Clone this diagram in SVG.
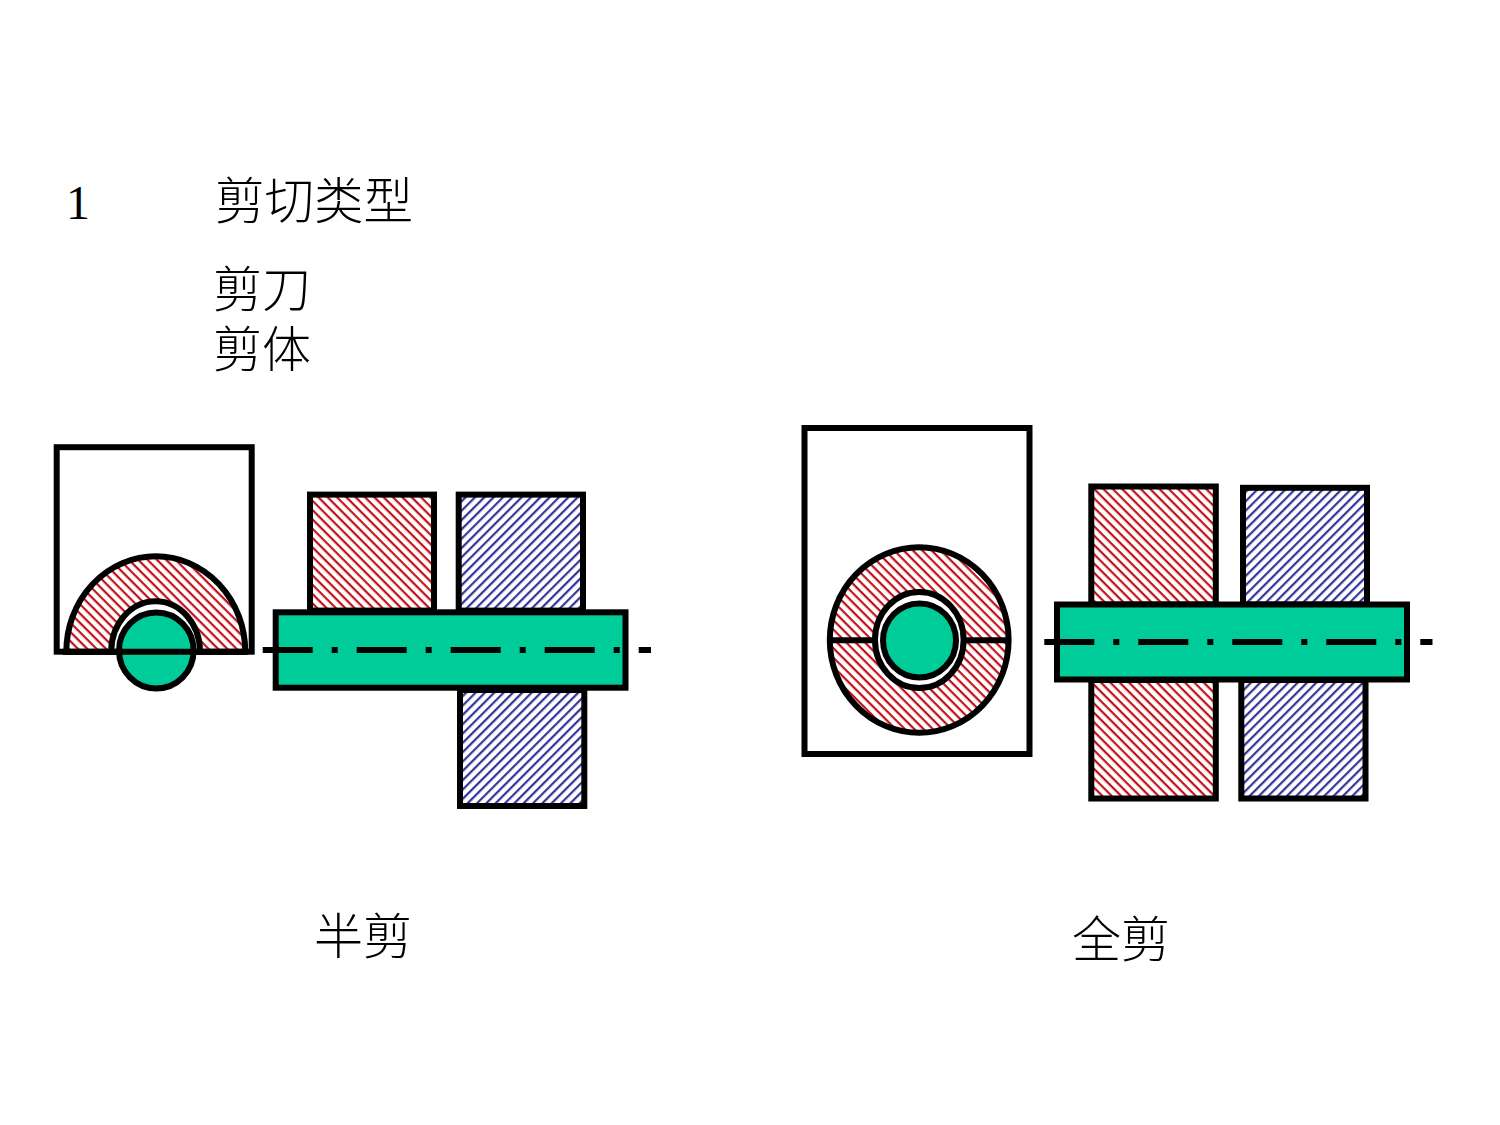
<svg xmlns="http://www.w3.org/2000/svg" width="1500" height="1125" viewBox="0 0 1500 1125">
<style>
.s{stroke:#000;stroke-width:6;fill:none}
.r{stroke:#000;stroke-width:6;fill:url(#red)}
.b{stroke:#000;stroke-width:6;fill:url(#blue)}
.g{stroke:#000;stroke-width:6;fill:#00cc99}
.w{stroke:#000;stroke-width:6;fill:#fff}
.c{stroke:#000;stroke-width:6;fill:none;stroke-dasharray:50 19 6 19}
text{font-family:"Noto Sans CJK SC","Liberation Serif",serif;font-weight:300;fill:#000}
</style>
<defs>
<pattern id="red" width="6.6" height="6.6" patternUnits="userSpaceOnUse" patternTransform="rotate(45)"><rect width="6.6" height="6.6" fill="#fff"/><rect width="6.6" height="2.2" fill="#c4101a"/></pattern>
<pattern id="blue" width="6.6" height="6.6" patternUnits="userSpaceOnUse" patternTransform="rotate(-45)"><rect width="6.6" height="6.6" fill="#fff"/><rect width="6.6" height="2.2" fill="#333399"/></pattern>
</defs>
<rect width="1500" height="1125" fill="#fff"/>
<g id="labels">
<text x="66" y="219" style="font-family:'Liberation Serif',serif;font-weight:400" font-size="48">1</text>
<text x="215" y="218.500" font-size="49.500">剪切类型</text>
<text x="213" y="306.500" font-size="49">剪刀</text>
<text x="213" y="366.500" font-size="49">剪体</text>
<text x="314" y="953.500" font-size="49">半剪</text>
<text x="1072" y="956.500" font-size="49">全剪</text>
</g>
<g id="half-shear">
<rect class="s" x="56.700" y="447.200" width="195" height="204.500"/>
<path class="r" d="M66.300 651.700A89.500 95.400 0 0 1 245.300 651.700Z"/>
<path class="w" d="M111.200 651.700A44.400 50.400 0 0 1 200 651.700Z"/>
<rect class="r" x="310" y="494.600" width="124" height="116"/>
<rect class="b" x="458.700" y="494.600" width="124.300" height="116"/>
<rect class="b" x="460" y="690" width="124.300" height="116"/>
<ellipse class="g" cx="156.300" cy="650.500" rx="37.300" ry="38"/>
<path class="s" d="M63 651.700H248.300"/>
<rect class="g" x="275.700" y="612.300" width="349.800" height="75.400"/>
</g>
<g id="full-shear">
<rect class="s" x="804.500" y="428" width="225" height="326"/>
<ellipse class="r" cx="919.200" cy="640" rx="89.400" ry="92.800"/>
<path class="s" d="M827 640.300H1011"/>
<ellipse class="w" cx="919.300" cy="640" rx="44.300" ry="48"/>
<ellipse class="g" cx="919.500" cy="640.400" rx="36.500" ry="37"/>
<rect class="r" x="1091.300" y="486.500" width="124.500" height="118"/>
<rect class="b" x="1243" y="487.800" width="124" height="116.700"/>
<rect class="r" x="1091.300" y="680" width="124.500" height="118.500"/>
<rect class="b" x="1241.300" y="680" width="124.200" height="118.500"/>
<rect class="g" x="1057" y="604.500" width="350" height="75"/>
</g>
<g id="connectors">
<path class="c" d="M262.700 650H651"/>
<path class="c" d="M1044.300 642H1432.500"/>
</g>
</svg>
